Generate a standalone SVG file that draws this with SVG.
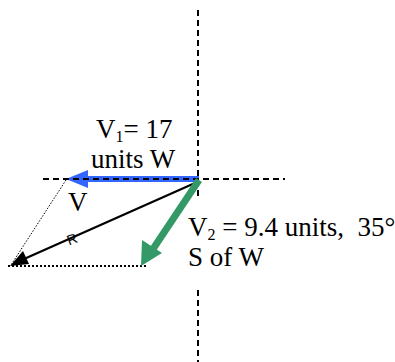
<svg xmlns="http://www.w3.org/2000/svg" width="395" height="362" viewBox="0 0 395 362">
<style>
.t{font-family:"Liberation Serif","Times New Roman",serif;font-size:27px;fill:#000;white-space:pre}
.axis{stroke:#000;stroke-width:2;stroke-dasharray:6 4;fill:none}
.dot{stroke:#000;fill:none}
</style>
<rect width="395" height="362" fill="#fff"/>
<g id="connectors">
<line id="blue-shaft" x1="199" y1="179" x2="86" y2="179" stroke="#3366ff" stroke-width="6"/>
<polygon id="blue-head" points="66,179 88,170 88,188" fill="#3366ff"/>
<line class="axis" x1="43" y1="179" x2="285" y2="179"/>
<line class="axis" x1="198" y1="10" x2="198" y2="200"/>
<line class="axis" x1="198" y1="290" x2="198" y2="362"/>
<line class="dot" x1="66" y1="180" x2="11" y2="265" stroke-width="1" stroke-dasharray="1.5 1.5"/>
<line class="dot" x1="8" y1="266" x2="146" y2="266" stroke-width="2" stroke-dasharray="2 2"/>
<line id="resultant" x1="195" y1="183" x2="24" y2="259" stroke="#000" stroke-width="2.2"/>
<polygon id="resultant-head" points="10,266 23,251 29,264" fill="#000"/>
<line id="green-shaft" x1="199" y1="180" x2="153" y2="249" stroke="#339966" stroke-width="7"/>
<polygon id="green-head" points="141,266 142,240 162,253" fill="#339966"/>
</g>
<g id="label-v1">
<text class="t" x="96" y="138" xml:space="preserve">V<tspan font-size="16" dy="4">1</tspan><tspan dy="-4">= 17</tspan></text>
<text class="t" x="91" y="168">units W</text>
</g>
<g id="label-v">
<text class="t" x="68" y="211">V</text>
</g>
<g id="label-r">
<text x="67" y="244" font-family="Liberation Sans,Arial,sans-serif" font-size="14" transform="rotate(-20 72 239)">R</text>
</g>
<g id="label-v2">
<text class="t" x="188" y="236" xml:space="preserve">V<tspan font-size="16" dy="4">2</tspan><tspan dy="-4"> = 9.4 units,  35°</tspan></text>
<text class="t" x="188" y="266">S of W</text>
</g>
</svg>
